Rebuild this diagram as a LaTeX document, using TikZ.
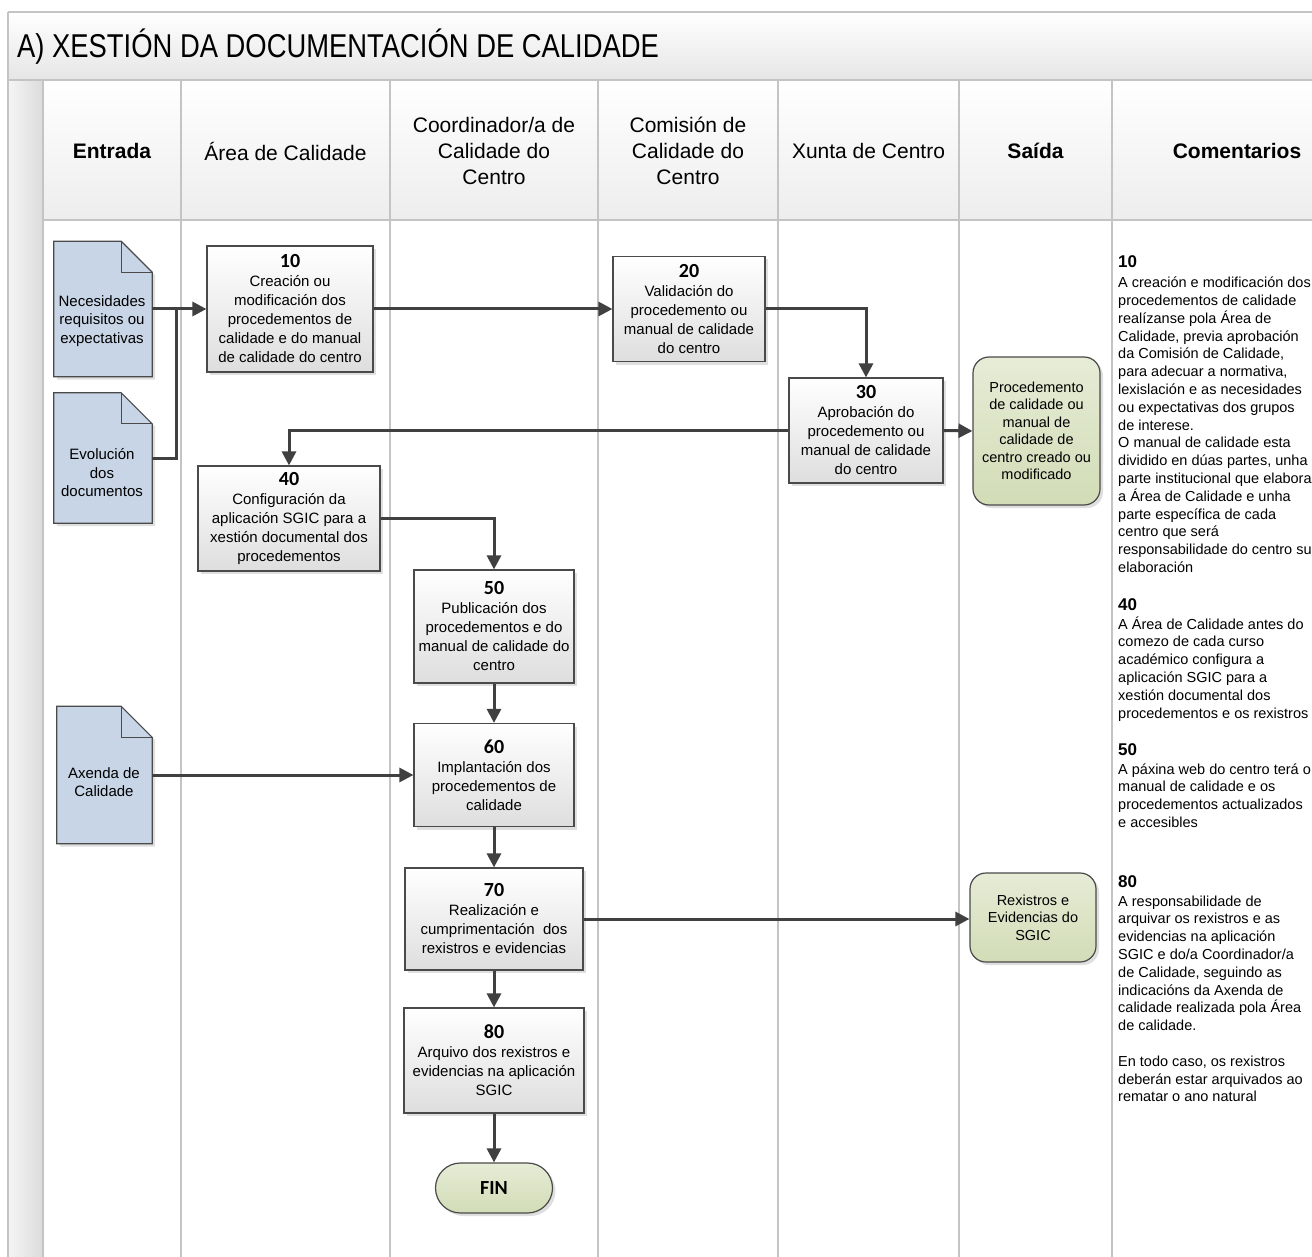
\documentclass[tikz,border=0pt]{standalone}
\usepackage{fontspec}
\setmainfont{Liberation Sans}
\newfontfamily\titlefont{Liberation Sans}[FakeStretch=0.83]
\newfontfamily\numfont{Carlito}
\usetikzlibrary{arrows.meta,shadows,calc}
\definecolor{lanegray}{HTML}{C4C4C4}
\definecolor{conncol}{HTML}{404040}
\definecolor{docblue}{HTML}{C8D5E6}
\definecolor{outgA}{HTML}{E6ECD6}
\definecolor{outgB}{HTML}{D2DCB6}
\definecolor{boxedge}{HTML}{4A4A4A}
\newcommand{\procnum}{\numfont\bfseries\fontsize{20}{19}\selectfont}
\tikzset{
  lane/.style={draw=lanegray, line width=2pt},
  proc/.style={draw=boxedge, line width=1.2pt, top color=white, bottom color=black!13,
    drop shadow={shadow xshift=3pt, shadow yshift=-3pt, opacity=0.25},
    align=center, font=\fontsize{15}{19}\selectfont, inner sep=2pt},
  outbox/.style={draw=boxedge, line width=1.2pt, rounded corners=16pt, top color=outgA, bottom color=outgB,
    drop shadow={shadow xshift=3pt, shadow yshift=-3pt, opacity=0.25},
    align=center, font=\fontsize{14.5}{17.5}\selectfont, inner sep=2pt},
  docbox/.style={inner sep=0pt, draw=none},
  docbody/.style={fill=docblue, draw=boxedge, line width=1.2pt,
    drop shadow={shadow xshift=3pt, shadow yshift=-3pt, opacity=0.25}},
  docfold/.style={draw=boxedge, line width=1.2pt},
  doctxt/.style={align=center, font=\fontsize{15}{18.5}\selectfont, inner sep=0pt},
  hdr/.style={align=center, font=\fontsize{21}{26}\selectfont, inner sep=0pt},
  conn/.style={draw=conncol, line width=3pt},
  arr/.style={conn, -{Triangle[length=14pt,width=14pt]}},
  cmhead/.style={anchor=base west, inner sep=0pt, font=\bfseries\fontsize{17}{17}\selectfont},
  cmbody/.style={anchor=base west, inner sep=0pt, font=\fontsize{14.5}{17.8}\selectfont},
}
\begin{document}
\begin{tikzpicture}[x=1pt,y=-1pt]
\useasboundingbox (0,0) rectangle (1312,1257);
% backgrounds
\fill[white] (0,0) rectangle (1312,1257);
\fill[top color=white, bottom color=black!10] (8,12) rectangle (1340,80);
\fill[top color=white, bottom color=black!7] (43,80) rectangle (1340,220);
\fill[left color=black!4, right color=black!14] (8,80) rectangle (43,1270);
% lane lines
\draw[lane] (8,12) -- (1340,12);
\draw[lane] (8,12) -- (8,1270);
\draw[lane] (8,80) -- (1340,80);
\draw[lane] (43,220) -- (1340,220);
\foreach \xx in {43,181,390,598,778,959,1112} {\draw[lane] (\xx,80) -- (\xx,1270);}
% title and headers
\node[anchor=base west, inner sep=0pt, font=\titlefont\fontsize{33}{33}\selectfont] (title) at (17,57.5) {A) XESTIÓN DA DOCUMENTACIÓN DE CALIDADE};
\node[hdr, font=\bfseries\fontsize{21}{26}\selectfont] (h1) at (112,151) {Entrada};
\node[hdr] (h2) at (285.5,151) {Área de Calidade};
\node[hdr] (h3) at (494,151) {Coordinador/a de\\Calidade do\\Centro};
\node[hdr] (h4) at (688,151) {Comisión de\\Calidade do\\Centro};
\node[hdr] (h5) at (868.5,151) {Xunta de Centro};
\node[hdr, font=\bfseries\fontsize{21}{26}\selectfont] (h6) at (1035.5,151) {Saída};
\node[hdr, font=\bfseries\fontsize{21}{26}\selectfont] (h7) at (1237,151) {Comentarios};
% documents
\node[docbox, minimum width=98pt, minimum height=135pt] (d1) at (103,309) {};
\node[docbox, minimum width=98pt, minimum height=130pt] (d2) at (103,458) {};
\node[docbox, minimum width=95pt, minimum height=137pt] (d3) at (104.5,775) {};
\foreach \dd in {d1,d2,d3} {
  \path[docbody] (\dd.north west) -- ($(\dd.north east)+(-31,0)$) -- ($(\dd.north east)+(0,31)$) -- (\dd.south east) -- (\dd.south west) -- cycle;
  \draw[docfold] ($(\dd.north east)+(-31,0)$) -- ($(\dd.north east)+(-31,31)$) -- ($(\dd.north east)+(0,31)$);
}
\node[doctxt] (d1t) at (102,321) {Necesidades\\requisitos ou\\expectativas};
\node[doctxt] (d2t) at (102,473) {Evolución\\dos\\documentos};
\node[doctxt] (d3t) at (104,782) {Axenda de\\Calidade};
% process boxes
\node[proc, minimum width=166pt, minimum height=126pt] (b10) at (290,309) {{\procnum 10}\\Creación ou\\modificación dos\\procedementos de\\calidade e do manual\\de calidade do centro};
\node[proc, minimum width=152pt, minimum height=105pt] (b20) at (689,309) {{\procnum 20}\\Validación do\\procedemento ou\\manual de calidade\\do centro};
\node[proc, minimum width=154pt, minimum height=105pt] (b30) at (866,430.5) {{\procnum 30}\\Aprobación do\\procedemento ou\\manual de calidade\\do centro};
\node[proc, minimum width=182pt, minimum height=105pt] (b40) at (289,518.5) {{\procnum 40}\\Configuración da\\aplicación SGIC para a\\xestión documental dos\\procedementos};
\node[proc, minimum width=160pt, minimum height=113pt] (b50) at (494,626.5) {{\procnum 50}\\Publicación dos\\procedementos e do\\manual de calidade do\\centro};
\node[proc, minimum width=160pt, minimum height=103pt] (b60) at (494,775) {{\procnum 60}\\Implantación dos\\procedementos de\\calidade};
\node[proc, minimum width=178pt, minimum height=102pt] (b70) at (494,919) {{\procnum 70}\\Realización e\\cumprimentación\ \ dos\\rexistros e evidencias};
\node[proc, minimum width=180pt, minimum height=105pt] (b80) at (494,1060.5) {{\procnum 80}\\Arquivo dos rexistros e\\evidencias na aplicación\\SGIC};
\node[outbox, rounded corners=25pt, minimum width=117pt, minimum height=50pt, font=\procnum] (fin) at (494,1188) {FIN};
% outputs
\node[outbox, minimum width=127pt, minimum height=148pt] (s1) at (1036.5,431) {Procedemento\\de calidade ou\\manual de\\calidade de\\centro creado ou\\modificado};
\node[outbox, minimum width=126pt, minimum height=89pt] (s2) at (1033,917.5) {Rexistros e\\Evidencias do\\SGIC};
% connectors
\coordinate (j1) at (176,309);
\draw[conn] (d2.east) -| (j1);
\draw[arr] (d1.east) -- (b10.west);
\draw[arr] (b10.east) -- (b20.west);
\draw[arr] (b20.east) -| (b30.north);
\draw[arr] (b30.east) -- (s1.west);
\draw[arr] (b30.west) -| (b40.north);
\draw[arr] (b40.east) -| (b50.north);
\draw[arr] (b50.south) -- (b60.north);
\draw[arr] (d3.east) -- (b60.west);
\draw[arr] (b60.south) -- (b70.north);
\draw[arr] (b70.east) -- (b70.east -| s2.west);
\draw[arr] (b70.south) -- (b80.north);
\draw[arr] (b80.south) -- (fin.north);
% comments
\node[cmhead] (c10h) at (1118,268) {10};
\node[cmbody] (c10) at (1118,287.5) {\begin{tabular}[t]{@{}l@{}}
A creación e modificación dos\\
procedementos de calidade\\
realízanse pola Área de\\
Calidade, previa aprobación\\
da Comisión de Calidade,\\
para adecuar a normativa,\\
lexislación e as necesidades\\
ou expectativas dos grupos\\
de interese.\\
O manual de calidade esta\\
dividido en dúas partes, unha\\
parte institucional que elabora\\
a Área de Calidade e unha\\
parte específica de cada\\
centro que será\\
responsabilidade do centro su\\
elaboración
\end{tabular}};
\node[cmhead] (c40h) at (1118,610) {40};
\node[cmbody] (c40) at (1118,629) {\begin{tabular}[t]{@{}l@{}}
A Área de Calidade antes do\\
comezo de cada curso\\
académico configura a\\
aplicación SGIC para a\\
xestión documental dos\\
procedementos e os rexistros
\end{tabular}};
\node[cmhead] (c50h) at (1118,755) {50};
\node[cmbody] (c50) at (1118,774) {\begin{tabular}[t]{@{}l@{}}
A páxina web do centro terá o\\
manual de calidade e os\\
procedementos actualizados\\
e accesibles
\end{tabular}};
\node[cmhead] (c80h) at (1118,887) {80};
\node[cmbody] (c80) at (1118,906) {\begin{tabular}[t]{@{}l@{}}
A responsabilidade de\\
arquivar os rexistros e as\\
evidencias na aplicación\\
SGIC e do/a Coordinador/a\\
de Calidade, seguindo as\\
indicacións da Axenda de\\
calidade realizada pola Área\\
de calidade.\\
\\
En todo caso, os rexistros\\
deberán estar arquivados ao\\
rematar o ano natural
\end{tabular}};
\end{tikzpicture}
\end{document}
